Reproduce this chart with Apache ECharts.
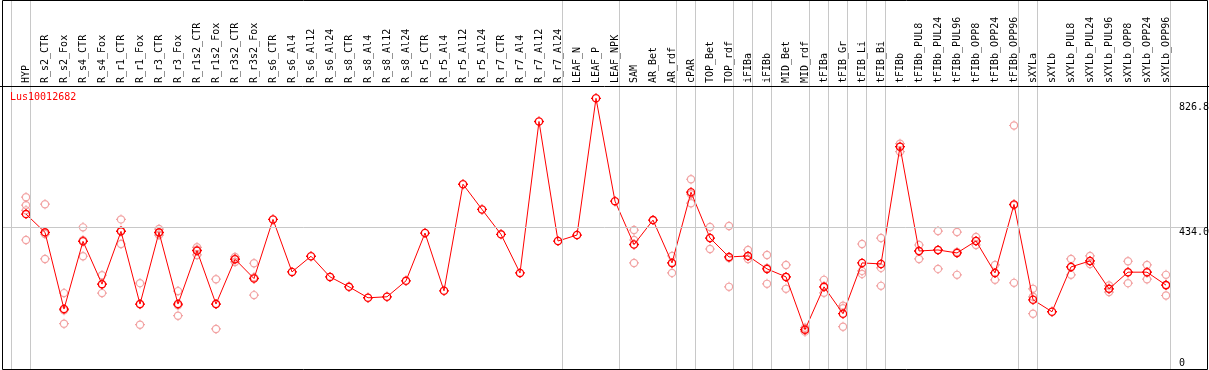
<!DOCTYPE html>
<html>
<head>
<meta charset="utf-8">
<script src="https://cdn.jsdelivr.net/npm/echarts@6/dist/echarts.min.js"></script>
<style>html,body{margin:0;padding:0;background:#fff}#c{width:1209px;height:370px}</style>
</head>
<body>
<div id="c"></div>
<script>
const chartTitle = 'Lus10012682';
const categories = ['HYP','R_s2_CTR','R_s2_Fox','R_s4_CTR','R_s4_Fox','R_r1_CTR','R_r1_Fox','R_r3_CTR','R_r3_Fox','R_r1s2_CTR','R_r1s2_Fox','R_r3s2_CTR','R_r3s2_Fox','R_s6_CTR','R_s6_Al4','R_s6_Al12','R_s6_Al24','R_s8_CTR','R_s8_Al4','R_s8_Al12','R_s8_Al24','R_r5_CTR','R_r5_Al4','R_r5_Al12','R_r5_Al24','R_r7_CTR','R_r7_Al4','R_r7_Al12','R_r7_Al24','LEAF_N','LEAF_P','LEAF_NPK','SAM','AR_Bet','AR_rdf','cPAR','TOP_Bet','TOP_rdf','iFIBa','iFIBb','MID_Bet','MID_rdf','tFIBa','tFIB_Gr','tFIB_Li','tFIB_Bi','tFIBb','tFIBb_PUL8','tFIBb_PUL24','tFIBb_PUL96','tFIBb_OPP8','tFIBb_OPP24','tFIBb_OPP96','sXYLa','sXYLb','sXYLb_PUL8','sXYLb_PUL24','sXYLb_PUL96','sXYLb_OPP8','sXYLb_OPP24','sXYLb_OPP96'];
const meanValues = [474.4,418.9,185.5,391.6,261.3,421.9,200.7,418.9,200.7,363.1,200.7,337.1,278.3,458.3,298.6,346.2,283.4,253.1,219.8,222.8,271.3,416.8,241.0,565.3,488.6,412.8,295.5,756.3,392.5,410.7,826.8,513.8,381.9,456.2,325.9,541.1,401.6,344.0,347.1,307.7,283.4,122.8,253.1,171.3,325.9,322.8,679.6,362.2,365.3,356.2,392.5,295.5,503.8,213.7,177.3,313.7,331.9,247.0,297.7,297.7,258.3];
const replicateValues = [
  [525.9,501.7,485.8,395.6],[504.7,413.8,338.0],[234.0,181.6,141.0],[434.1,394.7,346.2],[288.6,261.3,234.0],
  [458.3,424.1,383.4],[264.3,199.8,137.9],[428.9,416.8,410.7],[240.1,196.7,165.2],[373.4,365.9,350.1],
  [276.4,200.7,124.9],[344.0,338.0,328.9],[324.9,281.9,227.9],
  [],[],[],[],[],[],[],[],[],[],[],[],[],[],[],[],[],[],[],
  [425.9,395.6,325.9],[],[347.1,325.9,295.5],[580.5,535.0,507.7],[435.0,401.6,368.3],[438.0,341.0,253.1],
  [365.3,347.1,338.0],[350.1,310.7,262.2],[319.8,283.4,247.0],[128.8,122.8,116.7],[274.3,253.1,234.9],
  [195.5,187.9,131.9],[383.4,301.6,292.5],[401.6,310.7,256.1],[688.7,679.6,664.4],[380.4,362.2,338.0],
  [422.9,365.3,307.7],[419.8,359.2,289.5],[404.7,392.5,380.4],[319.8,295.5,274.3],[744.1,501.7,265.2],
  [247.0,222.8,171.3],[],[338.0,313.7,289.5],[347.1,331.9,322.8],[257.0,247.0,237.0],[331.0,297.7,264.3],
  [319.8,297.7,276.4],[289.5,258.3,226.7]
];
const groupEnds = [-1,0,28,31,34,35,37,38,39,41,42,43,44,45,52,53,60];
const gridLineValue = 434.0;
const maxLabelValue = 826.8;
const zeroValue = 0;

const FONT = 'DejaVu Sans Mono';
const RED = '#ff0000';
const PINK = '#ef8c8c';
const GRAY = '#c8c8c8';
const markerPath = 'path://M1.4,5 A3.6,3.6 0 1,1 8.6,5 A3.6,3.6 0 1,1 1.4,5 Z M5,0 L5,1.4 M5,8.6 L5,10 M0,5 L1.4,5 M8.6,5 L10,5';

const meanData = meanValues.map((v, i) => [i, v]);
const repData = [];
replicateValues.forEach((arr, i) => arr.forEach(v => repData.push([i, v])));
const labelValues = categories.map((_, i) => i);
const valueLabel = (v, pos, dist) => ({
  show: true, position: pos, align: 'left', distance: dist,
  formatter: v === 0 ? '0' : v.toFixed(1),
  fontFamily: FONT, fontSize: 10, color: '#000'
});

const chart = echarts.init(document.getElementById('c'), null, {renderer: 'canvas'});
chart.setOption({
  animation: false,
  backgroundColor: '#fff',
  title: {
    text: chartTitle, left: 10, top: 92, padding: 0,
    textStyle: {fontFamily: FONT, fontSize: 10, fontWeight: 'normal', color: RED}
  },
  grid: {left: 2, right: 2, top: 0, bottom: -1.5},
  xAxis: {
    type: 'value', position: 'top', offset: -86,
    min: -24 / 19, max: 1181 / 19,
    axisLine: {show: false},
    axisTick: {show: false},
    splitLine: {show: false},
    axisLabel: {
      customValues: labelValues, rotate: 90, margin: 3,
      fontFamily: FONT, fontSize: 10, color: '#000',
      formatter: v => categories[Math.round(v)] || ''
    }
  },
  yAxis: {type: 'value', min: 0, max: 1126.0, show: false},
  series: [
    {
      type: 'scatter', data: repData, symbol: markerPath, symbolSize: 10,
      itemStyle: {color: 'transparent', borderColor: PINK, borderWidth: 1.2},
      silent: true, z: 2,
      markLine: {
        silent: true, symbol: ['none', 'none'], animation: false,
        lineStyle: {color: GRAY, width: 1, type: 'solid'},
        label: {show: false},
        data: groupEnds.map(e => ({xAxis: e + 0.22}))
      }
    },
    {
      type: 'line', data: meanData, symbol: markerPath, symbolSize: 10, showAllSymbol: true,
      lineStyle: {color: RED, width: 1},
      itemStyle: {color: 'transparent', borderColor: RED, borderWidth: 1.3},
      silent: true, z: 3,
      markLine: {
        silent: true, symbol: ['none', 'none'], animation: false,
        lineStyle: {color: GRAY, width: 1, type: 'solid'},
        data: [
          {yAxis: gridLineValue, label: valueLabel(gridLineValue, 'insideEndBottom', [28, 0])},
          {yAxis: maxLabelValue, lineStyle: {color: 'rgba(0,0,0,0)'}, label: valueLabel(maxLabelValue, 'insideEndBottom', [28, 4])},
          {yAxis: zeroValue, lineStyle: {color: 'rgba(0,0,0,0)'}, label: valueLabel(zeroValue, 'insideEndTop', [28, 1.5])}
        ]
      }
    }
  ],
  graphic: [
    {type: 'line', z: 100, silent: true, shape: {x1: 0, y1: 86.5, x2: 1209, y2: 86.5}, style: {stroke: '#000', lineWidth: 1}},
    {type: 'rect', z: 100, silent: true, shape: {x: 2.5, y: 0.5, width: 1205, height: 369}, style: {fill: 'none', stroke: '#000', lineWidth: 1}}
  ]
});
</script>
</body>
</html>
